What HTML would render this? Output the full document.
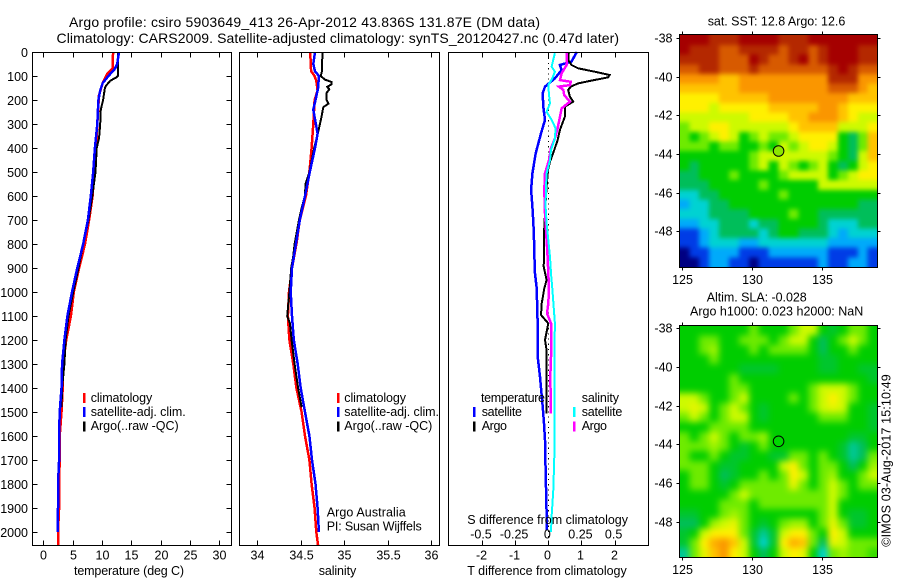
<!DOCTYPE html>
<html>
<head>
<meta charset="utf-8">
<title>Argo profile</title>
<style>
html,body{margin:0;padding:0;background:#fff;}
svg{display:block;}
text{font-family:"Liberation Sans",Arial,sans-serif;font-size:12.5px;fill:#000;}
.title{font-size:14px;}
</style>
</head>
<body>
<svg id="chart" xmlns="http://www.w3.org/2000/svg" width="900" height="580" viewBox="0 0 900 580">
  <defs>
    <filter id="sst-soften" filterUnits="userSpaceOnUse" x="640" y="0" width="260" height="300" color-interpolation-filters="sRGB"><feGaussianBlur stdDeviation="2.4"/></filter>
    <filter id="sla-soften" filterUnits="userSpaceOnUse" x="640" y="290" width="260" height="290" color-interpolation-filters="sRGB"><feGaussianBlur stdDeviation="3.4"/></filter>
    <clipPath id="sst-clip"><rect x="679.5" y="35" width="198" height="232"/></clipPath>
    <clipPath id="sla-clip"><rect x="679.5" y="325.5" width="198" height="232"/></clipPath>
  </defs>
  <rect x="0" y="0" width="900" height="580" fill="#fff"/>
  <text class="title" x="69" y="27" textLength="471" lengthAdjust="spacing">Argo profile: csiro 5903649_413 26-Apr-2012 43.836S 131.87E (DM data)</text>
  <text class="title" x="56.5" y="43" textLength="562.5" lengthAdjust="spacing">Climatology: CARS2009. Satellite-adjusted climatology: synTS_20120427.nc (0.47d later)</text>

  <g id="temp-panel"></g>
  <g id="sal-panel"></g>
  <g id="diff-panel"></g>
  <g id="sst-map"></g>
  <g id="sla-map"></g>

  <text x="74" y="575" textLength="110" lengthAdjust="spacing">temperature (deg C)</text>
  <text x="318.7" y="575" textLength="37.5" lengthAdjust="spacing">salinity</text>
  <text x="467.3" y="575" textLength="159.4" lengthAdjust="spacing">T difference from climatology</text>
  <text x="467.3" y="524" textLength="160.7" lengthAdjust="spacing">S difference from climatology</text>

  <g>
    <rect x="83" y="393" width="2.5" height="10" fill="#f00"/>
    <rect x="83" y="407" width="2.5" height="10" fill="#00f"/>
    <rect x="83" y="421.5" width="2.5" height="10" fill="#000"/>
    <text x="90.7" y="402" textLength="61.5" lengthAdjust="spacing">climatology</text>
    <text x="90.7" y="416" textLength="95" lengthAdjust="spacing">satellite-adj. clim.</text>
    <text x="90.7" y="430" textLength="88" lengthAdjust="spacing">Argo(..raw -QC)</text>
  </g>
  <g>
    <rect x="337" y="393" width="2.5" height="10" fill="#f00"/>
    <rect x="337" y="407" width="2.5" height="10" fill="#00f"/>
    <rect x="337" y="421.5" width="2.5" height="10" fill="#000"/>
    <text x="344.3" y="402" textLength="61.7" lengthAdjust="spacing">climatology</text>
    <text x="344.3" y="416" textLength="94.7" lengthAdjust="spacing">satellite-adj. clim.</text>
    <text x="344.3" y="430" textLength="88" lengthAdjust="spacing">Argo(..raw -QC)</text>
  </g>
  <text x="326.7" y="516.7" textLength="79" lengthAdjust="spacing">Argo Australia</text>
  <text x="326.7" y="530.7" textLength="95" lengthAdjust="spacing">PI: Susan Wijffels</text>

  <g>
    <text x="481" y="402" textLength="64" lengthAdjust="spacing">temperature</text>
    <rect x="473" y="407" width="2.5" height="10" fill="#00f"/>
    <text x="481.7" y="416" textLength="40.3" lengthAdjust="spacing">satellite</text>
    <rect x="473" y="421.5" width="2.5" height="10" fill="#000"/>
    <text x="481.7" y="430" textLength="25.3" lengthAdjust="spacing">Argo</text>
    <text x="581.7" y="402" textLength="37.3" lengthAdjust="spacing">salinity</text>
    <rect x="573" y="407" width="2.5" height="10" fill="#0ff"/>
    <text x="581.7" y="416" textLength="40.6" lengthAdjust="spacing">satellite</text>
    <rect x="573" y="421.5" width="2.5" height="10" fill="#f0f"/>
    <text x="581.7" y="430" textLength="25.3" lengthAdjust="spacing">Argo</text>
  </g>

  <text x="707.7" y="25.7" textLength="137.6" lengthAdjust="spacing">sat. SST: 12.8 Argo: 12.6</text>
  <text x="706.7" y="301.7" textLength="100" lengthAdjust="spacing">Altim. SLA: -0.028</text>
  <text x="690" y="315.7" textLength="173.3" lengthAdjust="spacing">Argo h1000: 0.023 h2000: NaN</text>
  <text transform="translate(890.7,546.7) rotate(-90)" x="0" y="0" textLength="172.4" lengthAdjust="spacing">©IMOS 03-Aug-2017 15:10:49</text>
</svg>
<script>
// ---------- tick data ----------
var depthTicks = [0,100,200,300,400,500,600,700,800,900,1000,1100,1200,1300,1400,1500,1600,1700,1800,1900,2000];
var tempTicks = [0,5,10,15,20,25,30];
var salTicks = [34,34.5,35,35.5,36];
var tDiffTicks = [-2,-1,0,1,2];
var sDiffTicks = [-0.5,-0.25,0,0.25,0.5];
var sDiffLabels = ['-0.5','-0.25','0','0.25','0.5'];
var lonTicks = [125,130,135];
var latTicks = [-38,-40,-42,-44,-46,-48];

// ---------- temperature profiles ----------
var climTempDepth = [0,70,90,130,180,300,400,500,600,700,800,900,1000,1100,1200,1300,1400,1500,1600,1700,1800,1900,2000,2056];
var climTempValue = [11.9,11.8,10.9,10.1,9.5,9.2,9.0,8.7,8.4,7.8,7.1,6.1,5.2,4.7,3.9,3.4,3.3,3.1,2.8,2.8,2.7,2.7,2.5,2.5];
var satTempDepth = [0,50,70,100,130,160,200,300,400,500,600,700,800,900,1000,1100,1200,1300,1400,1500,1600,1700,1800,1900,2000];
var satTempValue = [12.9,12.6,12.2,11.1,10.1,9.7,9.4,9.2,8.8,8.5,8.1,7.6,6.8,5.8,4.9,4.1,3.6,3.2,3.1,2.8,2.7,2.7,2.5,2.5,2.45];
var argoTempDepth = [0,100,105,120,140,150,200,240,300,360,400,500,600,700,800,900,1000,1100,1200,1300,1400,1480];
var argoTempValue = [12.7,12.7,12.5,11.4,10.7,10.5,10.2,9.8,9.7,9.5,9.1,8.9,8.35,7.7,6.8,6.0,5.1,4.3,3.8,3.6,3.2,3.1];

// ---------- salinity profiles ----------
var climSalDepth = [0,80,100,120,160,200,300,400,500,600,700,800,900,1000,1100,1200,1300,1400,1500,1600,1700,1800,1900,2000,2056];
var climSalValue = [34.61,34.62,34.66,34.68,34.695,34.66,34.645,34.625,34.6,34.56,34.49,34.45,34.4,34.365,34.353,34.37,34.415,34.45,34.51,34.55,34.6,34.625,34.66,34.68,34.7];
var satSalDepth = [0,50,80,100,150,200,240,280,340,400,500,600,700,800,900,1000,1100,1200,1300,1400,1500,1600,1700,1800,1900,2000];
var satSalValue = [34.665,34.645,34.665,34.71,34.7,34.67,34.645,34.665,34.695,34.665,34.605,34.55,34.49,34.445,34.4,34.385,34.4,34.42,34.465,34.5,34.55,34.6,34.63,34.67,34.695,34.71];
var argoSalDepth = [0,80,100,115,125,135,145,155,170,200,215,230,270,320,350,400,500,550,600,650,700,800,850,900,1000,1050,1100,1130,1200,1300,1400,1480];
var argoSalValue = [34.75,34.745,34.73,34.78,34.855,34.855,34.805,34.83,34.8,34.8,34.82,34.76,34.74,34.71,34.69,34.655,34.6,34.555,34.55,34.51,34.48,34.43,34.415,34.39,34.37,34.357,34.345,34.376,34.395,34.43,34.47,34.51];

// ---------- difference profiles ----------
var satTDiffDepth = [0,40,54,75,110,144,172,228,283,339,422,506,575,644,714,783,853,922,985,1097,1131,1270,1353,1478,1547,1617,1742,1867,1992];
var satTDiffValue = [0.86,0.7,0.35,0.4,0.2,-0.1,-0.17,-0.15,-0.1,-0.22,-0.38,-0.48,-0.52,-0.48,-0.45,-0.43,-0.42,-0.4,-0.35,-0.33,-0.32,-0.32,-0.25,-0.17,-0.13,-0.1,-0.08,-0.06,-0.04];
var argoTDiffDepth = [0,33,54,68,82,96,106,119,131,144,158,186,207,228,269,325,367,408,457,499,561,672,756,839,894,950,985,1048,1096,1131,1200,1242,1339,1506];
var argoTDiffValue = [0.62,0.6,0.7,0.9,1.4,1.85,1.8,1.3,0.9,0.68,0.6,0.65,0.75,0.5,0.5,0.35,0.28,0.18,0.05,-0.02,-0.05,-0.1,-0.13,-0.13,-0.14,-0.05,-0.12,-0.2,-0.22,0.0,-0.1,-0.05,-0.05,-0.05];
var argoSDiffDepth = [0,54,89,117,124,138,144,158,179,207,235,269,318,360,401,450,506,575,672,783,853,922,985,1048,1089,1131,1173,1270,1353,1506];
var argoSDiffValue = [0.14,0.138,0.1,0.088,0.17,0.163,0.08,0.113,0.12,0.163,0.1,0.088,0.07,0.05,0.02,0.005,-0.025,-0.03,-0.025,-0.013,-0.005,0,0.005,0,-0.01,0.02,0.02,0.02,0.015,0.02];
var satSDiffDepth = [5,61,82,110,138,179,214,249,283,318,360,408,450,506,575,644,714,783,853,922,985,1131,1270,1409,1547,1686,1825,1936,1999];
var satSDiffValue = [0.05,0.025,0.05,0.03,0,0.005,0.013,-0.013,0.025,0.055,0.05,0.02,0.013,-0.013,-0.018,-0.02,-0.013,0,0.013,0.02,0.03,0.05,0.045,0.045,0.045,0.045,0.038,0.025,0.02];

// ---------- SST map: colour level per cell (north to south, west to east) ----------
var sstLevels = [
[13,13,13,12,12,12,13,13,13,13,12,12,12,13,13,13,13,13,13,13],
[13,12,12,12,11,11,12,12,12,12,11,12,12,11,12,13,13,13,12,12],
[12,12,12,12,11,11,11,13,12,11,11,12,13,11,12,13,13,13,12,12],
[11,11,12,12,11,11,11,12,11,11,11,11,11,11,11,12,13,12,11,11],
[10,10,10,10,9,9,10,10,10,10,10,10,10,10,10,12,12,12,10,10],
[9,9,9,9,9,9,10,10,10,10,10,10,10,10,10,11,11,11,10,9],
[8,8,8,8,9,9,9,9,9,10,10,10,10,10,10,10,10,9,9,9],
[8,8,8,7,8,8,8,8,8,9,9,9,9,9,10,10,9,8,8,8],
[7,7,7,7,7,7,7,8,8,8,8,9,9,10,10,10,9,8,7,7],
[6,7,7,8,8,7,7,7,7,7,7,8,9,9,9,9,7,7,7,8],
[6,5,6,7,8,7,5,6,7,6,6,7,8,8,8,8,5,4,6,9],
[6,6,6,5,6,6,5,5,6,5,7,6,7,8,8,7,5,4,6,9],
[5,5,5,5,5,5,5,6,7,7,7,7,7,7,7,6,5,4,7,9],
[5,4,5,5,5,5,5,6,7,5,7,6,5,6,7,5,4,5,7,8],
[4,4,5,5,5,6,5,5,5,5,6,7,7,7,7,5,6,7,8,8],
[4,4,4,5,5,5,5,5,6,5,5,5,5,5,7,7,7,7,7,7],
[3,3,4,4,5,5,5,5,5,5,6,5,5,5,5,5,5,5,5,5],
[2,3,3,4,4,5,5,5,5,5,5,5,5,5,5,5,5,5,4,4],
[3,3,3,4,4,4,4,5,5,5,5,6,5,5,4,4,4,4,4,4],
[2,2,3,3,4,4,4,3,4,4,5,5,5,5,4,3,3,3,4,4],
[1,1,2,3,4,4,4,4,3,4,5,5,4,4,4,3,2,3,3,3],
[1,1,2,3,3,3,2,2,3,3,3,3,3,3,3,2,2,2,2,2],
[0,1,1,2,2,2,1,1,1,2,2,2,2,2,2,1,1,1,2,1],
[0,0,1,2,2,1,1,0,1,1,1,1,1,1,2,1,1,2,2,1]
];

// ---------- SLA map: colour level per cell ----------
var slaLevels = [
[5,5,5,5,5,5,5,6,5,5,5,6,7,7,5,4.5,5,6,6,5],
[5,5,6,6,5,5,6,6,6,5,6,7,7,5,4,5,6,7,6,5],
[5,5,6,6.5,5,5,5,6,5,6,6,6,6,5,4,5,5,6,5,5],
[5,5,5,6,5,5,5,5,5,5,5,5,5,5,4.5,4.5,5,5,5,5],
[5,5,5,5,5,5,4.5,4.5,4.5,4.5,5,5,5,5,4.5,4.5,5,5,4.5,4.5],
[5,5,5,5,5,6,5,5,5,5,5,5,5,5,5,5,5,5,5,4.5],
[5,5,5,5,5,6,6,5,5,5,5,5,5,6,7,7,7,6,5,5],
[7,7,6,5,5,6,7,5,5,5,5,6,5,6,7,8,7,6,5,5],
[7,7.5,7,5,6,7,6,5,4.5,5,5,5,5,6,7,7.5,7,5,5,4.5],
[6,7,6,5,6,7,7,5,4.5,5,5,5,5,5,6,6,6,5,5,4.5],
[5,5,5,6,6,6,6,5,5,5,5,5,5,5,5,5,5,5,5,4.5],
[6,5,6,7,6,5,6,6,6.5,5,5,5,5,5,5,5,5,4.5,4.5,5],
[6,6,6,6.5,6,5,4.5,5,6,5,5,5,5,5,5,5,4.5,3.5,4,5],
[6,5,5,6,5,4.5,4.5,5,5,4.5,4.5,6,6,5,6,5,4.5,3.5,4,6],
[6,6,6,5,4.5,4.5,5,5,5,5,7,8,6,5,6,6,5,4,5,6.5],
[5,6,6,5,4,4.5,5,5,6,5,6,8,7,5,6,6.5,5,5,6,7],
[5,6,6,5,4.5,5,6,6,6,6,6,7.5,6,5,6,7,6,5,6,6],
[5,5,5,5,5,6,7,6,6,6,6,6,6,6,6,7,6,5,5,5],
[5,5,5,5,6,6,6,5,6,6,6,6,6,6,6,7,5,5,5,5],
[4.5,4.5,5,5,6,6.5,6,5,5,5,5,5,5,5,6,7,5,4.5,4.5,5],
[4,4,5,6.5,7,7.5,6,5,4.5,5,6,6.5,6.5,5,6,7.5,6,4.5,4.5,5],
[4.5,5,7,8,8,8,6,4.5,3.5,4.5,7,8,8,6,5,8,7,5,5,5],
[4.5,6,8,9.5,10,9,7,4.5,3,4.5,8,9.5,9,6,4,7.5,7,6,6,6],
[3.5,6,7.5,9,10,8,7,5,4,5,7,8,7.5,5,3,6,6.5,6,6,5.5]
];

var floatLon = 131.87;
var floatLat = -43.836;

// ---------- axis functions ----------
var NS = 'http://www.w3.org/2000/svg';
var PLOT_TOP = 52.5, PLOT_BOTTOM = 545.5, TICK = 5;
function depthY(d){ return 52 + 0.24 * d; }
function tempX(t){ return 43.3 + 5.867 * t; }
function salX(s){ return 257.3 + 86.8 * (s - 34); }
function tDiffX(t){ return 548.3 + 33.15 * t; }
function sDiffX(s){ return 548.3 + 132.6 * s; }
function lonX(lon){ return 682.2 + 14 * (lon - 125); }
function latY(lat, originY){ return originY + 19.33 * (-38 - lat); }

function mk(parent, tag, attrs, content){
  var el = document.createElementNS(NS, tag);
  for (var k in attrs) el.setAttribute(k, attrs[k]);
  if (content !== undefined) el.textContent = content;
  parent.appendChild(el);
  return el;
}
function tickLine(parent, x1, y1, x2, y2){
  return mk(parent, 'line', {x1:x1, y1:y1, x2:x2, y2:y2, stroke:'#000', 'stroke-width':1, 'shape-rendering':'crispEdges'});
}
function frame(parent, left, right, top, bottom){
  return mk(parent, 'rect', {x:left, y:top, width:right-left, height:bottom-top, fill:'none', stroke:'#000', 'stroke-width':1, 'shape-rendering':'crispEdges'});
}
function profile(parent, depths, values, xFn, color, width){
  var pts = depths.map(function(d, i){ return xFn(values[i]).toFixed(1) + ',' + depthY(d).toFixed(1); }).join(' ');
  return mk(parent, 'polyline', {points:pts, fill:'none', stroke:color, 'stroke-width':width, 'stroke-linejoin':'miter', 'shape-rendering':'crispEdges'});
}

// ---------- temperature panel ----------
var tempG = document.getElementById('temp-panel');
var el;
el = profile(tempG, climTempDepth, climTempValue, tempX, '#f00', 2.5);


el = profile(tempG, argoTempDepth, argoTempValue, tempX, '#000', 2);


el = profile(tempG, satTempDepth, satTempValue, tempX, '#00f', 2.5);


el = frame(tempG, 32.5, 231.5, PLOT_TOP, PLOT_BOTTOM);



depthTicks.forEach(function(d){
  var y = Math.round(depthY(d)) + 0.5;
  var a = tickLine(tempG, 32.5, y, 32.5 + TICK, y);
  
  
  var b = tickLine(tempG, 231.5 - TICK, y, 231.5, y);
  
  
  var t = mk(tempG, 'text', {x:28, y:y + 4.5, 'text-anchor':'end'}, String(d));
  
  
});
tempTicks.forEach(function(v){
  var x = Math.round(tempX(v)) + 0.5;
  var a = tickLine(tempG, x, PLOT_TOP, x, PLOT_TOP + TICK);
  
  
  var b = tickLine(tempG, x, PLOT_BOTTOM - TICK, x, PLOT_BOTTOM);
  
  
  var t = mk(tempG, 'text', {x:x, y:559.3, 'text-anchor':'middle'}, String(v));
  
  
});

// ---------- salinity panel ----------
var salG = document.getElementById('sal-panel');
el = profile(salG, climSalDepth, climSalValue, salX, '#f00', 2.5);


el = profile(salG, argoSalDepth, argoSalValue, salX, '#000', 2);


el = profile(salG, satSalDepth, satSalValue, salX, '#00f', 2.5);


el = frame(salG, 239.5, 439.5, PLOT_TOP, PLOT_BOTTOM);


salTicks.forEach(function(v){
  var x = Math.round(salX(v)) + 0.5;
  var a = tickLine(salG, x, PLOT_TOP, x, PLOT_TOP + TICK);
  
  
  var b = tickLine(salG, x, PLOT_BOTTOM - TICK, x, PLOT_BOTTOM);
  
  
  var t = mk(salG, 'text', {x:x, y:559.3, 'text-anchor':'middle'}, String(v));
  
  
});

// ---------- difference panel ----------
var diffG = document.getElementById('diff-panel');
el = mk(diffG, 'line', {x1:548.5, y1:PLOT_TOP, x2:548.5, y2:PLOT_BOTTOM, stroke:'#000', 'stroke-width':1, 'stroke-dasharray':'1.2 4', 'shape-rendering':'crispEdges'});


el = profile(diffG, satTDiffDepth, satTDiffValue, tDiffX, '#00f', 2.5);


el = profile(diffG, argoTDiffDepth, argoTDiffValue, tDiffX, '#000', 2);


el = profile(diffG, argoSDiffDepth, argoSDiffValue, sDiffX, '#f0f', 2.5);


el = profile(diffG, satSDiffDepth, satSDiffValue, sDiffX, '#0ff', 2);


el = frame(diffG, 448.5, 648.5, PLOT_TOP, PLOT_BOTTOM);


tDiffTicks.forEach(function(v){
  var x = Math.round(tDiffX(v)) + 0.5;
  var a = tickLine(diffG, x, PLOT_TOP, x, PLOT_TOP + TICK);
  
  
  var b = tickLine(diffG, x, PLOT_BOTTOM - TICK, x, PLOT_BOTTOM);
  
  
  var t = mk(diffG, 'text', {x:x - 1, y:559.3, 'text-anchor':'middle'}, String(v));
  
  
});
sDiffTicks.forEach(function(v, i){
  var t = mk(diffG, 'text', {x:sDiffX(v) - 1, y:538.3, 'text-anchor':'middle'}, sDiffLabels[i]);
  
  
});

// ---------- maps ----------
var levelStops = [
  [0,0,130],[0,60,230],[0,170,250],[0,210,210],[0,190,90],[0,205,0],[110,235,0],
  [205,250,0],[255,240,0],[255,195,0],[250,150,0],[215,90,0],[180,40,0],[165,0,0]
];
function levelColor(v){
  var lo = Math.max(0, Math.min(levelStops.length - 1, Math.floor(v)));
  var hi = Math.min(levelStops.length - 1, lo + 1);
  var f = v - lo;
  var c = [0,1,2].map(function(k){ return Math.round(levelStops[lo][k] + (levelStops[hi][k] - levelStops[lo][k]) * f); });
  return 'rgb(' + c.join(',') + ')';
}
var MAP_LEFT_LON = 124.8, MAP_RIGHT_LON = 138.96, MAP_TOP_LAT = -37.86, MAP_BOTTOM_LAT = -49.85;
var EDGE_BLEED = 14;

function cellEdgesX(col, cols){
  var dl = (MAP_RIGHT_LON - MAP_LEFT_LON) / cols;
  var a = lonX(MAP_LEFT_LON + col * dl), b = lonX(MAP_LEFT_LON + (col + 1) * dl);
  if (col === 0) a -= EDGE_BLEED;
  if (col === cols - 1) b += EDGE_BLEED;
  return [a, b];
}
function cellEdgesY(row, rows, originY){
  var dl = (MAP_TOP_LAT - MAP_BOTTOM_LAT) / rows;
  var a = latY(MAP_TOP_LAT - row * dl, originY), b = latY(MAP_TOP_LAT - (row + 1) * dl, originY);
  if (row === 0) a -= EDGE_BLEED;
  if (row === rows - 1) b += EDGE_BLEED;
  return [a, b];
}

function drawMapAxes(g, originY, pointFill){
  var left = 679.5, right = 877.5;
  var top = Math.round(latY(MAP_TOP_LAT, originY)) - 0.5;
  var bottom = Math.round(latY(MAP_BOTTOM_LAT, originY)) + 0.5;
  var f = frame(g, left, right, top, bottom);
  
  
  lonTicks.forEach(function(lon){
    var x = Math.round(lonX(lon)) + 0.5;
    var a = tickLine(g, x, top - 3, x, top);
    
    
    var b = tickLine(g, x, bottom, x, bottom + 3);
    
    
    var t = mk(g, 'text', {x:x, y:bottom + 16.3, 'text-anchor':'middle'}, String(lon));
    
    
  });
  latTicks.forEach(function(lat){
    var y = Math.round(latY(lat, originY)) + 0.5;
    var a = tickLine(g, left - 3, y, left, y);
    
    
    var b = tickLine(g, right, y, right + 3, y);
    
    
    var t = mk(g, 'text', {x:672.5, y:y + 4, 'text-anchor':'end'}, String(lat));
    
    
  });
  var c = mk(g, 'circle', {cx:lonX(floatLon) + 0.2, cy:latY(floatLat, originY) + 0.2, r:5.3, fill:pointFill, stroke:'#000', 'stroke-width':1});
  
  
}

var sstG = document.getElementById('sst-map');
var SST_ORIGIN = 38;
var sstClip = mk(sstG, 'g', {'clip-path':'url(#sst-clip)'});


var sstCells = mk(sstClip, 'g', {filter:'url(#sst-soften)'});


sstLevels.forEach(function(row, r){
  var ys = cellEdgesY(r, sstLevels.length, SST_ORIGIN);
  row.forEach(function(v, c){
    var xs = cellEdgesX(c, row.length);
    var cell = mk(sstCells, 'rect', {x:xs[0], y:ys[0], width:xs[1]-xs[0], height:ys[1]-ys[0], fill:levelColor(v), 'shape-rendering':'crispEdges'});
    
    
  });
});
drawMapAxes(sstG, SST_ORIGIN, 'rgb(140,230,0)');

var slaG = document.getElementById('sla-map');
var SLA_ORIGIN = 328.3;
var slaClip = mk(slaG, 'g', {'clip-path':'url(#sla-clip)'});


var slaCells = mk(slaClip, 'g', {filter:'url(#sla-soften)'});


slaLevels.forEach(function(row, r){
  var ys = cellEdgesY(r, slaLevels.length, SLA_ORIGIN);
  row.forEach(function(v, c){
    var xs = cellEdgesX(c, row.length);
    var cell = mk(slaCells, 'rect', {x:xs[0], y:ys[0], width:xs[1]-xs[0], height:ys[1]-ys[0], fill:levelColor(v), 'shape-rendering':'crispEdges'});
    
    
  });
});
drawMapAxes(slaG, SLA_ORIGIN, 'rgb(0,215,0)');
</script>
</body>
</html>
